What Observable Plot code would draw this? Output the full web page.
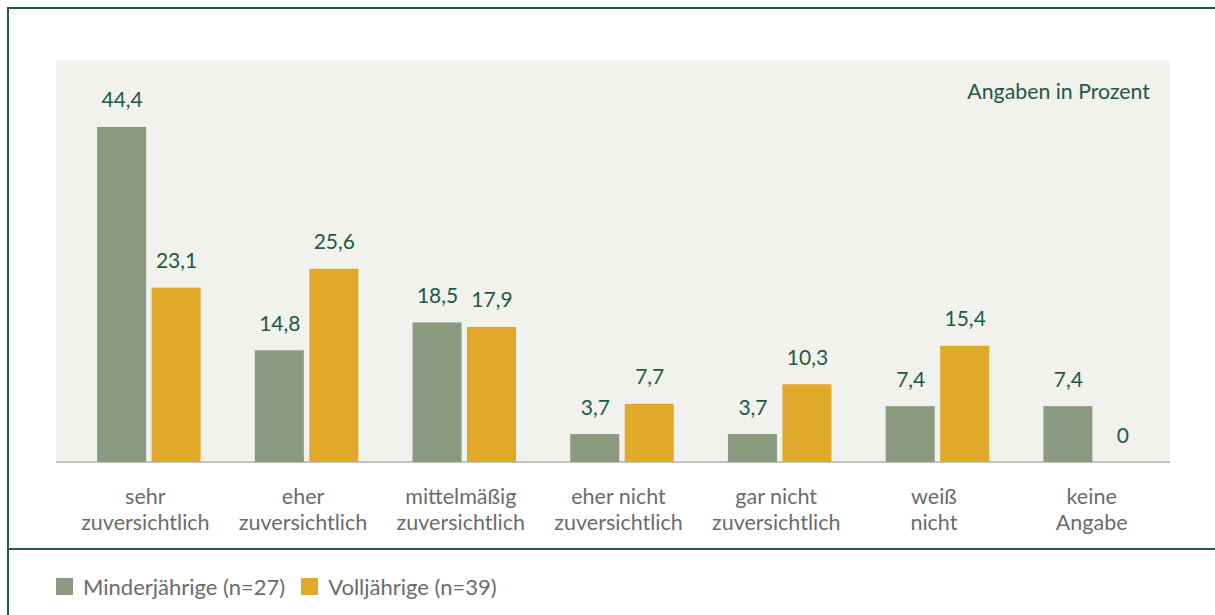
<!DOCTYPE html>
<html>
<head>
<meta charset="utf-8">
<script src="https://cdn.jsdelivr.net/npm/d3@7"></script>
<script src="https://cdn.jsdelivr.net/npm/@observablehq/plot@0.6"></script>
<style>
  html, body { margin: 0; padding: 0; background: #fff; }
  #wrap { position: relative; width: 1215px; height: 615px; overflow: hidden; font-family: Lato, "Open Sans", sans-serif; }
  #frame { position: absolute; left: 7px; top: 7px; width: 1220px; height: 620px; border-left: 2px solid #1d5c45; border-top: 2px solid #1d5c45; box-sizing: border-box; }
  #sep { position: absolute; left: 7px; top: 548px; width: 1215px; height: 2px; background: #1d5c45; }
  #bg { position: absolute; left: 56px; top: 60px; width: 1114px; height: 402px; background: #f1f1ed; }
  #base { position: absolute; left: 56px; top: 461px; width: 1114px; height: 2px; background: #c2c2c0; }
  #chart { position: absolute; left: 0; top: 0; }
  #note { position: absolute; right: 65px; top: 78px; font-size: 21.3px; color: #1d5a43; }
  #legend { position: absolute; left: 56px; top: 573px; font-size: 22px; color: #6b6b6b; display: flex; align-items: center; }
  #legend .sw { width: 17px; height: 17px; display: inline-block; margin-right: 10px; }
  #legend .item { display: flex; align-items: center; margin-right: 16px; }
</style>
</head>
<body>
<div id="wrap">
  <div id="bg"></div>
  <div id="base"></div>
  <div id="frame"></div>
  <div id="sep"></div>
  <div id="chart"></div>
  <div id="note">Angaben in Prozent</div>
  <div id="legend"></div>
</div>
<script>
const categories = ["sehr\nzuversichtlich", "eher\nzuversichtlich", "mittelmäßig\nzuversichtlich", "eher nicht\nzuversichtlich", "gar nicht\nzuversichtlich", "weiß\nnicht", "keine\nAngabe"];
const seriesNames = ["Minderjährige (n=27)", "Volljährige (n=39)"];
const seriesColors = ["#8a9a7e", "#e0a92a"];
const minderjaehrige = [44.4, 14.8, 18.5, 3.7, 3.7, 7.4, 7.4];
const volljaehrige = [23.1, 25.6, 17.9, 7.7, 10.3, 15.4, 0];

const data = [];
categories.forEach((c, i) => {
  data.push({cat: c, series: seriesNames[0], value: minderjaehrige[i]});
  data.push({cat: c, series: seriesNames[1], value: volljaehrige[i]});
});
const fmt = v => String(v).replace(".", ",");

const chart = Plot.plot({
  width: 1215,
  height: 549,
  marginLeft: 70,
  marginRight: 41,
  marginTop: 84.7,
  marginBottom: 87,
  style: {background: "transparent", overflow: "visible", fontFamily: "Lato, 'Open Sans', sans-serif"},
  fx: {domain: categories, padding: 0, round: false, axis: null},
  x: {domain: seriesNames, paddingInner: 0.1, paddingOuter: 0.4975, round: false, axis: null},
  y: {domain: [0, 50], axis: null},
  color: {domain: seriesNames, range: seriesColors},
  marks: [
    Plot.barY(data, {fx: "cat", x: "series", y: "value", fill: "series"}),
    Plot.text(data, {fx: "cat", x: "series", y: "value", text: d => fmt(d.value), lineAnchor: "bottom", dy: -20, fontSize: 21, fill: "#1d5a43"}),
    Plot.text(categories, {fx: d => d, text: d => d, frameAnchor: "bottom", lineAnchor: "top", dy: 22, dx: -4, lineHeight: 1.245, fontSize: 21.5, fill: "#6b6b6b"})
  ]
});
document.getElementById("chart").appendChild(chart);

const legend = document.getElementById("legend");
seriesNames.forEach((s, i) => {
  const item = document.createElement("span");
  item.className = "item";
  const sw = document.createElement("span");
  sw.className = "sw";
  sw.style.background = seriesColors[i];
  item.appendChild(sw);
  item.appendChild(document.createTextNode(s));
  legend.appendChild(item);
});
</script>
</body>
</html>
